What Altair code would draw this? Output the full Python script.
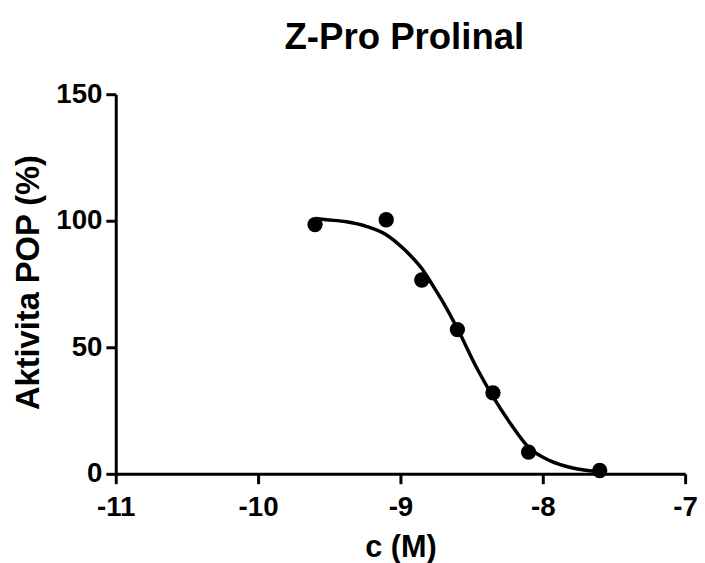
import altair as alt
import pandas as pd

# measured points (log concentration, activity %)
log_c = [-9.60, -9.10, -8.85, -8.60, -8.35, -8.10, -7.60]
activity = [98.5, 100.4, 76.6, 57.0, 32.0, 8.6, 1.3]

# fitted curve
fit_log_c = [-9.60, -9.52, -9.38, -9.24, -9.10, -8.97, -8.85, -8.76, -8.69,
             -8.60, -8.46, -8.35, -8.22, -8.10, -7.95, -7.79, -7.60]
fit_activity = [100.9, 100.4, 99.6, 97.8, 94.5, 88.5, 81.1, 73.3, 66.8,
                57.4, 41.4, 30.5, 19.3, 10.5, 5.2, 2.3, 0.8]

x_ticks = [-11, -10, -9, -8, -7]
y_ticks = [0, 50, 100, 150]

chart_title = ["Z-Pro Prolinal"]

pts = pd.DataFrame({"c": log_c, "a": activity})
fit = pd.DataFrame({"c": fit_log_c, "a": fit_activity})
ttl = pd.DataFrame({"t": chart_title})

FONT = "Liberation Sans"

x_enc = alt.X(
    "c:Q",
    scale=alt.Scale(domain=[-11, -7], nice=False, zero=False),
    axis=alt.Axis(
        values=x_ticks,
        title="c (M)",
        labelExpr="'' + datum.value",
        labelFlush=False,
        labelPadding=10,
        titleX=288,
        titleY=84,
        titleBaseline="alphabetic",
        titleAlign="center",
        titleFontSize=31,
    ),
)
y_enc = alt.Y(
    "a:Q",
    scale=alt.Scale(domain=[0, 150], nice=False),
    axis=alt.Axis(
        values=y_ticks,
        title="Aktivita POP (%)",
        labelExpr="'' + datum.value",
        labelFlush=False,
        labelPadding=4,
        titleX=-88,
        titleY=190,
        titleAngle=270,
        titleBaseline="middle",
        titleAlign="center",
        titleFontSize=33,
    ),
)

line = alt.Chart(fit).mark_line(
    color="black", strokeWidth=3.5, interpolate="monotone"
).encode(x=x_enc, y=y_enc)

points = alt.Chart(pts).mark_circle(
    color="black", opacity=1, size=240
).encode(x="c:Q", y="a:Q")

title_mark = alt.Chart(ttl).mark_text(
    font=FONT,
    fontSize=37,
    fontWeight="bold",
    color="black",
    align="center",
    baseline="alphabetic",
).encode(text="t:N", x=alt.value(292), y=alt.value(-46))

chart = (
    alt.layer(line, points, title_mark)
    .properties(
        width=576,
        height=384,
        autosize=alt.AutoSizeParams(type="none"),
        padding={"left": 109, "top": 84, "right": 12, "bottom": 87},
    )
    .configure_view(stroke=None)
    .configure_axis(
        grid=False,
        domainColor="black",
        domainWidth=3,
        tickColor="black",
        tickWidth=3,
        tickSize=10,
        labelFont=FONT,
        labelFontSize=28,
        labelFontWeight="bold",
        labelColor="black",
        titleFont=FONT,
        titleFontWeight="bold",
        titleColor="black",
    )
)

chart.save("out.html", embed_options={"renderer": "svg", "actions": False})
